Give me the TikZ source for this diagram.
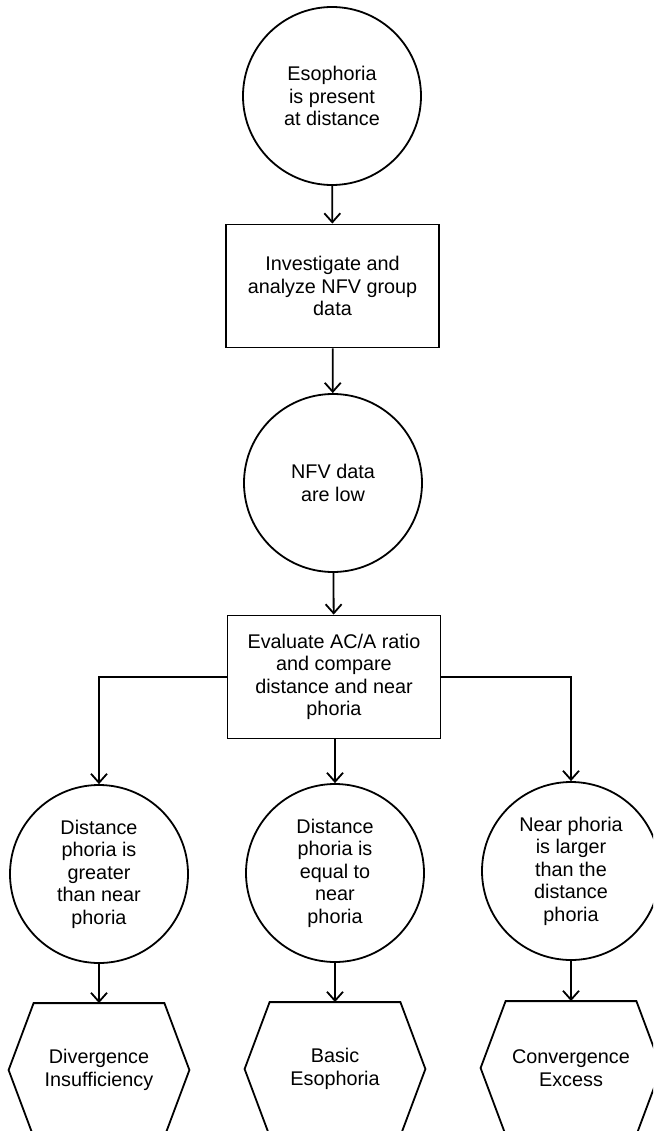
\documentclass[tikz,border=0pt]{standalone}
\usepackage{fontspec}
\setmainfont{Liberation Sans}
\usetikzlibrary{arrows.meta}

\begin{document}
\begin{tikzpicture}[x=1pt,y=-1pt,line width=1.8pt,
  every node/.style={font=\fontsize{19.8}{22.5}\selectfont,align=center,inner sep=0pt},
  circ/.style={circle,draw,minimum size=178pt},
  box/.style={rectangle,draw,minimum width=213pt,minimum height=123pt},
  hexa/.style={rectangle,minimum width=179pt,minimum height=132pt},
  arr/.style={-{Straight Barb[length=9pt,width=16pt]}}]
\clip (0,0) rectangle (653,1131);

\node[circ](esop) at (332,96) {Esophoria\\is present\\at distance};
\node[box](inv) at (332.5,286) {Investigate and\\analyze NFV group\\data};
\node[circ](low) at (333,483) {NFV data\\are low};
\node[box](eval) at (334,677) {Evaluate AC/A ratio\\and compare\\distance and near\\phoria};

\node[circ](dist) at (99,874) {Distance\\phoria is\\greater\\than near\\phoria};
\node[circ](equal) at (335,873) {Distance\\phoria is\\equal to\\near\\phoria};
\node[circ](near) at (571,871) {Near phoria\\is larger\\than the\\distance\\phoria};

\node[hexa](di) at (99,1070) {Divergence\\Insufficiency};
\node[hexa](be) at (335,1069) {Basic\\Esophoria};
\node[hexa](ce) at (571,1068) {Convergence\\Excess};

\foreach \h in {di,be,ce}
\draw ([xshift=25pt]\h.north west) -- ([xshift=-25pt]\h.north east) -- (\h.east)
  -- ([xshift=-25pt]\h.south east) -- ([xshift=25pt]\h.south west) -- (\h.west) -- cycle;

\draw[arr] (esop) -- (inv);
\draw[arr] (inv) -- (low);
\draw[arr] (low) -- (eval);
\draw[arr] (eval.west) -| (dist.north);
\draw[arr] (eval.south -| equal) -- (equal.north);
\draw[arr] (eval.east) -| (near.north);

\foreach \c/\h in {dist/di,equal/be,near/ce}
\draw[arr] (\c) -- (\h);
\end{tikzpicture}
\end{document}
